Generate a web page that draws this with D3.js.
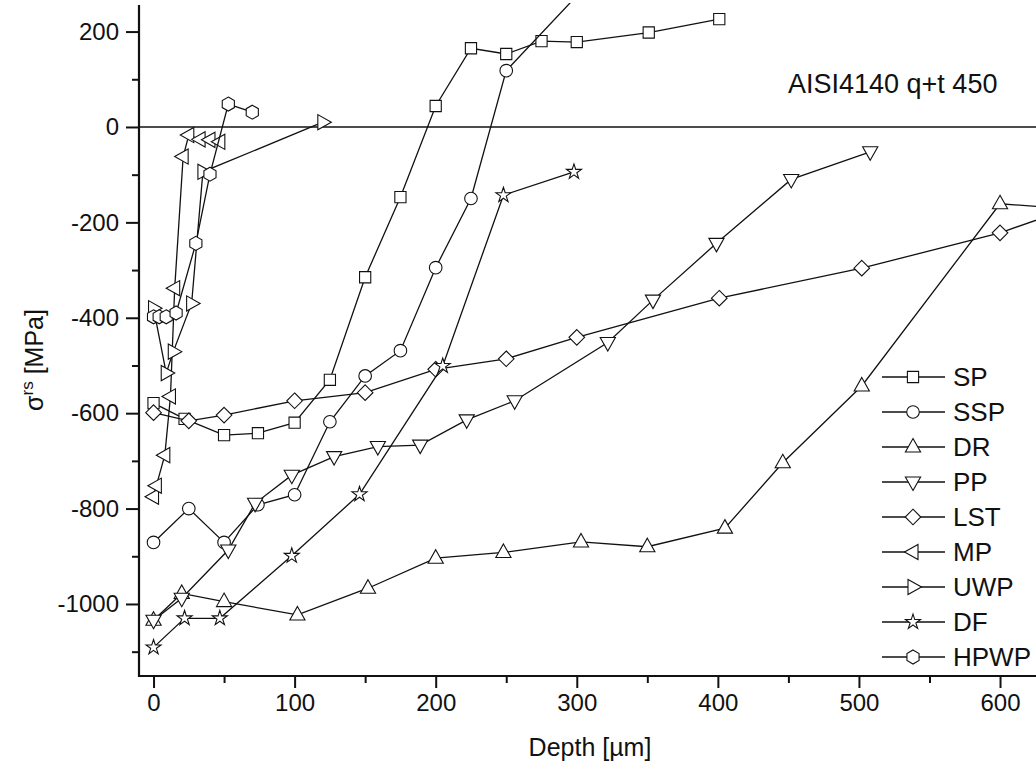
<!DOCTYPE html>
<html><head><meta charset="utf-8">
<script src="https://cdn.jsdelivr.net/npm/d3@7"></script>
<style>
body{margin:0;background:#fff}
text{font-family:"Liberation Sans",Arial,sans-serif;fill:#111}
</style>
</head><body>
<svg id="chart" width="1036" height="763"></svg>
<script>
// ---------- data (depth in µm, residual stress in MPa) ----------
const seriesNames = ["SP","SSP","DR","PP","LST","MP","UWP","DF","HPWP"];
const seriesShapes = ["square","circle","triUp","triDown","diamond","triLeft","triRight","star","hexagon"];

const spDepth  = [0,22,50,74,100,125,150,175,200,225,250,275,300,351,401];
const spStress = [-579,-612,-646,-642,-620,-530,-315,-147,44,165,153,180,178,198,226];

const sspDepth  = [0,25,50,74,100,125,150,175,200,225,250,300];
const sspStress = [-871,-800,-871,-792,-771,-618,-522,-469,-295,-150,118,275];

const drDepth  = [0,20,50,102,152,200,248,303,350,405,446,502,600,650];
const drStress = [-1034,-978,-995,-1023,-967,-904,-892,-870,-880,-841,-704,-543,-161,-172];

const ppDepth  = [0,20,53,72,98,128,159,189,222,256,322,354,399,452,508];
const ppStress = [-1034,-988,-887,-789,-730,-691,-670,-667,-614,-574,-452,-363,-244,-110,-52];

const lstDepth  = [0,25,50,100,150,200,250,300,401,502,600,650];
const lstStress = [-599,-616,-604,-574,-557,-508,-486,-441,-359,-296,-222,-170];

const mpDepth  = [0,2,8,12,15,21,25,33,40,47];
const mpStress = [-775,-752,-688,-565,-338,-62,-17,-26,-27,-31];

const uwpDepth  = [0,9,14,27,35,120];
const uwpStress = [-380,-516,-471,-370,-94,10];

const dfDepth  = [0,22,47,98,146,205,248,298];
const dfStress = [-1091,-1030,-1030,-899,-770,-501,-143,-94];

const hpwpDepth  = [0,4,9,16,30,40,53,70];
const hpwpStress = [-398,-398,-398,-390,-244,-99,48,31];

const xTicks = [0,100,200,300,400,500,600];
const yTicks = [-1000,-800,-600,-400,-200,0,200];
const titleText = "AISI4140 q+t 450";
const xLabel = "Depth [\u00b5m]";

const allDepth  = [spDepth,sspDepth,drDepth,ppDepth,lstDepth,mpDepth,uwpDepth,dfDepth,hpwpDepth];
const allStress = [spStress,sspStress,drStress,ppStress,lstStress,mpStress,uwpStress,dfStress,hpwpStress];

// ---------- layout ----------
const svg = d3.select("#chart");
const L = 139, R = 1036, T = 5, B = 676;
const x = d3.scaleLinear().domain([-10.3, 625.5]).range([L, R]);
const y = d3.scaleLinear().domain([-1151, 255.7]).range([B, T]);

svg.append("defs").append("clipPath").attr("id","plotclip")
  .append("rect").attr("x",L).attr("y",T-2).attr("width",R-L).attr("height",B-T+2);

// marker shapes
function shapePath(kind){
  const pts = a => "M" + a.map(p => p.join(",")).join("L") + "Z";
  switch(kind){
    case "square": { const s=5.6; return pts([[-s,-s],[s,-s],[s,s],[-s,s]]); }
    case "diamond": { const s=7.8; return pts([[0,-s],[s,0],[0,s],[-s,0]]); }
    case "triUp": return pts([[0,-8.5],[7.6,5],[-7.6,5]]);
    case "triDown": return pts([[0,8.5],[7.6,-5],[-7.6,-5]]);
    case "triLeft": return pts([[-8.5,0],[5,-7.6],[5,7.6]]);
    case "triRight": return pts([[8.5,0],[-5,-7.6],[-5,7.6]]);
    case "hexagon": { const r=7; const a=[]; for(let i=0;i<6;i++){const t=Math.PI/3*i - Math.PI/2; a.push([ (r*Math.cos(t)).toFixed(2), (r*Math.sin(t)).toFixed(2)]);} return pts(a); }
    case "star": return d3.symbol(d3.symbolStar, 70)();
    case "circle": default: return d3.symbol(d3.symbolCircle, Math.PI*6.3*6.3)();
  }
}

// ---------- axes ----------
const fmt = d => String(d);   // plain hyphen-minus as in the original
const xAxis = d3.axisBottom(x).tickValues(xTicks).tickSize(12).tickPadding(6).tickFormat(fmt);
const xMinor = d3.axisBottom(x).tickValues(d3.range(50,650,100)).tickSize(7).tickFormat("");
const yAxis = d3.axisLeft(y).tickValues(yTicks).tickSize(13).tickPadding(7).tickFormat(fmt);
const yMinor = d3.axisLeft(y).tickValues(d3.range(-1100,300,200)).tickSize(7).tickFormat("");

function styleAxis(g){
  g.select(".domain").remove();
  g.selectAll(".tick line").attr("stroke","#111").attr("stroke-width",2);
  g.selectAll(".tick text").attr("font-size",24).attr("fill","#111")
    .attr("font-family","'Liberation Sans',Arial,sans-serif");
}
svg.append("g").attr("transform",`translate(0,${B})`).call(xAxis).call(styleAxis);
svg.append("g").attr("transform",`translate(0,${B})`).call(xMinor).call(styleAxis);
svg.append("g").attr("transform",`translate(${L},0)`).call(yAxis).call(styleAxis);
svg.append("g").attr("transform",`translate(${L},0)`).call(yMinor).call(styleAxis);

// axis lines
svg.append("line").attr("x1",L).attr("x2",L).attr("y1",T).attr("y2",B+1).attr("stroke","#111").attr("stroke-width",2.2);
svg.append("line").attr("x1",L-1).attr("x2",R).attr("y1",B).attr("y2",B).attr("stroke","#111").attr("stroke-width",2.2);

// zero line
svg.append("line").attr("x1",L).attr("x2",R).attr("y1",y(0)).attr("y2",y(0)).attr("stroke","#111").attr("stroke-width",1.4);

// axis labels
svg.append("text").attr("x",590).attr("y",756).attr("text-anchor","middle").attr("font-size",25).text(xLabel);
const yl = svg.append("text").attr("transform","translate(43,360) rotate(-90)").attr("text-anchor","middle").attr("font-size",25);
yl.append("tspan").text("\u03c3");
yl.append("tspan").attr("font-size",17).attr("dy",-10).text("rs");
yl.append("tspan").attr("dy",10).text(" [MPa]");

// title
svg.append("text").attr("x",788).attr("y",93).attr("font-size",27).text(titleText);

// ---------- series ----------
const plot = svg.append("g").attr("clip-path","url(#plotclip)");
const line = d3.line().x(d => x(d[0])).y(d => y(d[1]));
seriesNames.forEach((name,i) => {
  const data = allDepth[i].map((d,j) => [d, allStress[i][j]]);
  const g = plot.append("g");
  g.append("path").datum(data).attr("d",line).attr("fill","none").attr("stroke","#111").attr("stroke-width",1.3);
  g.selectAll("path.m").data(data).enter().append("path").attr("class","m")
    .attr("d",shapePath(seriesShapes[i]))
    .attr("transform",d => `translate(${x(d[0])},${y(d[1])})`)
    .attr("fill","#fff").attr("stroke","#111").attr("stroke-width",1.1);
});

// ---------- legend ----------
const leg = svg.append("g");
seriesNames.forEach((name,i) => {
  const yy = 377 + i*35;
  leg.append("line").attr("x1",882).attr("x2",945).attr("y1",yy).attr("y2",yy).attr("stroke","#111").attr("stroke-width",1.3);
  leg.append("path").attr("d",shapePath(seriesShapes[i])).attr("transform",`translate(913,${yy})`)
    .attr("fill","#fff").attr("stroke","#111").attr("stroke-width",1.1);
  leg.append("text").attr("x",953).attr("y",yy).attr("dy","0.36em").attr("font-size",26).text(name);
});
</script>
</body></html>
